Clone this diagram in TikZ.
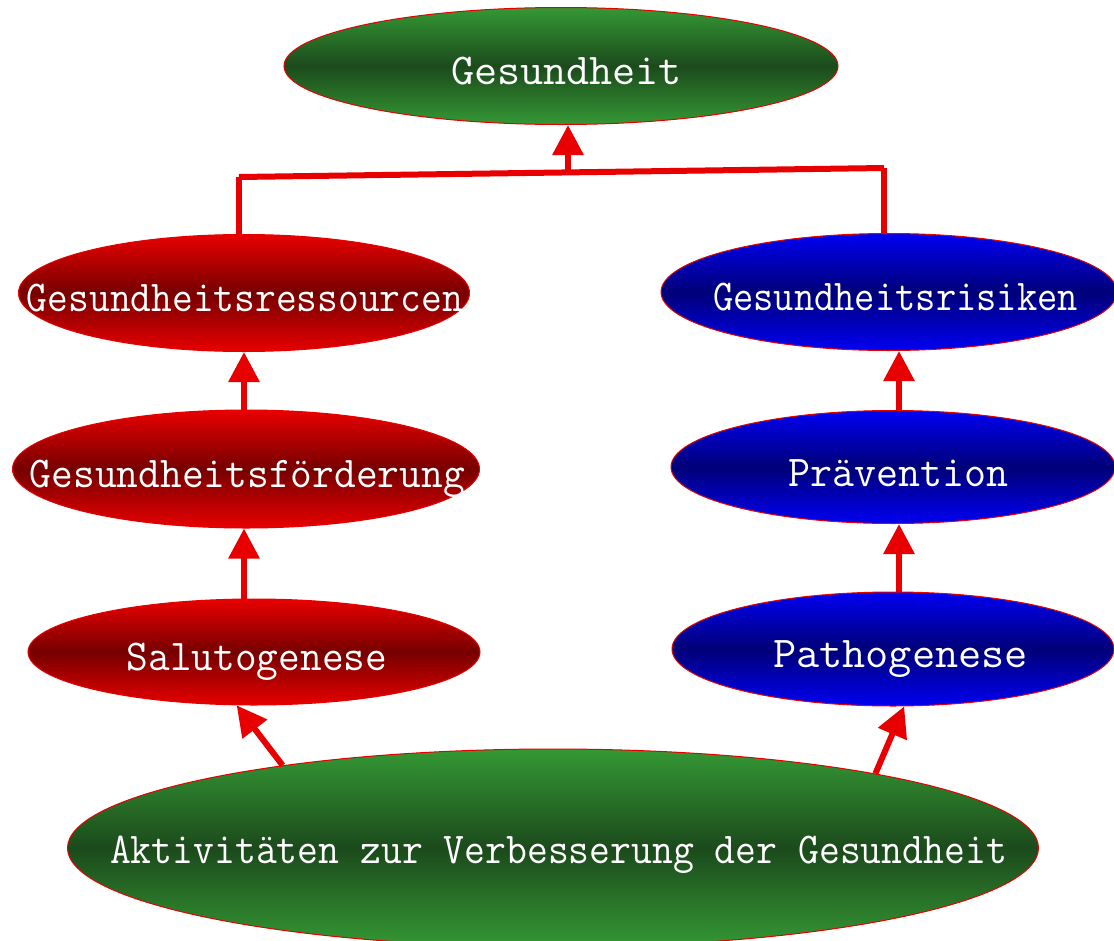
\documentclass[tikz,border=0pt]{standalone}
\usepackage{fontspec}
\usepackage{graphicx}
\usetikzlibrary{arrows.meta,shapes.geometric}
\definecolor{lnred}{RGB}{232,0,0}
\definecolor{gtop}{RGB}{52,152,52}
\definecolor{gmid}{RGB}{28,74,28}
\definecolor{rtop}{RGB}{232,0,0}
\definecolor{rmid}{RGB}{118,0,0}
\definecolor{btop}{RGB}{0,0,242}
\definecolor{bmid}{RGB}{0,0,120}
\newcommand\fitw[2]{\resizebox{#1pt}{\height}{#2}}
\tikzset{
  ell/.style={ellipse, draw=lnred, line width=1pt, inner sep=0pt},
  gell/.style={ell, top color=gtop, bottom color=gtop, middle color=gmid},
  rell/.style={ell, top color=rtop, bottom color=rtop, middle color=rmid},
  bell/.style={ell, top color=btop, bottom color=btop, middle color=bmid},
  lbl/.style={text=white, font=\ttfamily\fontsize{44}{44}\selectfont, inner sep=0pt, anchor=base},
  conn/.style={draw=lnred, line width=6pt},
  arr/.style={conn, -{Triangle[length=30pt,width=30pt]}},
}
\begin{document}
\begin{tikzpicture}[x=1pt,y=-1pt]
\useasboundingbox (0,0) rectangle (1114,940);
% ellipses
\node[gell, minimum width=554pt, minimum height=117pt] (g) at (561,66) {};
\node[rell, minimum width=451pt, minimum height=117pt] (r) at (244,293) {};
\node[bell, minimum width=456pt, minimum height=117pt] (k) at (889,292) {};
\node[rell, minimum width=467pt, minimum height=118pt] (f) at (246,469) {};
\node[bell, minimum width=444pt, minimum height=113pt] (p) at (893,467) {};
\node[rell, minimum width=452pt, minimum height=106pt] (s) at (254,652) {};
\node[bell, minimum width=442pt, minimum height=114pt] (pa) at (893,649) {};
\node[gell, minimum width=971pt, minimum height=198pt] (a) at (553,848) {};
% texts
\node[lbl] (gt) at (566.5,84) {\fitw{231}{Gesundheit}};
\node[lbl] (rt) at (245,311) {\fitw{436}{Gesundheitsressourcen}};
\node[lbl] (kt) at (895.5,310) {\fitw{365}{Gesundheitsrisiken}};
\node[lbl] (ft) at (247.5,487) {\fitw{435}{Gesundheitsförderung}};
\node[lbl] (pt) at (898,486) {\fitw{220}{Prävention}};
\node[lbl] (st) at (257,670) {\fitw{260}{Salutogenese}};
\node[lbl] (pat) at (900.5,667) {\fitw{255}{Pathogenese}};
\node[lbl] (at) at (558.5,863) {\fitw{897}{Aktivitäten zur Verbesserung der Gesundheit}};
% bus to Gesundheit
\coordinate (bl) at (239,177);
\coordinate (br) at (884,168);
\coordinate (bm) at (568,173);
\draw[conn] (bl |- r.north) -- (bl);
\draw[conn] (bl) -- (br);
\draw[conn] (br) -- (br |- k.north);
\draw[arr] (bm) -- (bm |- g.south);
% vertical arrows
\draw[arr] (f.north -| 244,0) -- (r.south -| 244,0);
\draw[arr] (s.north -| 244,0) -- (f.south -| 244,0);
\draw[arr] (p.north -| 899,0) -- (k.south -| 899,0);
\draw[arr] (pa.north -| 899,0) -- (p.south -| 899,0);
% diagonal arrows
\draw[arr] (a.163) -- (s.252);
\draw[arr] (a.13.5) -- (pa.281);
\end{tikzpicture}
\end{document}
